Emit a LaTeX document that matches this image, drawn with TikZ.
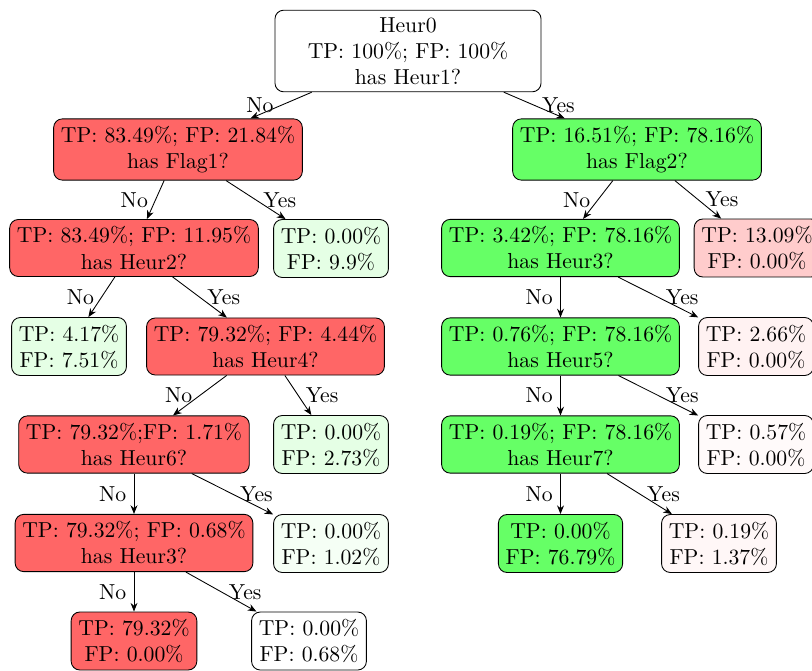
\documentclass[tikz,border=0pt]{standalone}
\usetikzlibrary{arrows.meta}
\tikzset{
  box/.style={draw, rounded corners=4pt, align=center, inner sep=3.33pt},
  posbox/.style={box, fill=red!60},
  negbox/.style={box, fill=green!60},
  edge/.style={-{Stealth[length=4pt,width=3.2pt]}},
  nolbl/.style={left},
  yeslbl/.style={right},
}
\begin{document}
\begin{tikzpicture}[x=0.4608pt, y=-0.4608pt]
  \useasboundingbox (0,0) rectangle (812,671);

  % root split
  \node[box, minimum width=122.6pt] (root) at (408,51) {Heur0\\TP: 100\%; FP: 100\%\\has Heur1?};

  % left branch
  \node[posbox] (a) at (178,149.5) {TP: 83.49\%; FP: 21.84\%\\has Flag1?};
  \node[posbox] (a1) at (134,248) {TP: 83.49\%; FP: 11.95\%\\has Heur2?};
  \node[box, fill=green!10] (a2) at (331,248.5) {TP: 0.00\%\\FP: 9.9\%};
  \node[box, fill=green!10] (a1a) at (69,346.5) {TP: 4.17\%\\FP: 7.51\%};
  \node[posbox] (a1b) at (265.5,346.5) {TP: 79.32\%; FP: 4.44\%\\has Heur4?};
  \node[posbox] (a1b1) at (134,444.5) {TP: 79.32\%;FP: 1.71\%\\has Heur6?};
  \node[box, fill=green!10] (a1b2) at (331,444.5) {TP: 0.00\%\\FP: 2.73\%};
  \node[posbox] (a1b1a) at (134,543) {TP: 79.32\%; FP: 0.68\%\\has Heur3?};
  \node[box, fill=green!4] (a1b1b) at (331,543.5) {TP: 0.00\%\\FP: 1.02\%};
  \node[posbox] (a1b1a1) at (134,641) {TP: 79.32\%\\FP: 0.00\%};
  \node[box, fill=white] (a1b1a2) at (309,641) {TP: 0.00\%\\FP: 0.68\%};

  % right branch
  \node[negbox] (b) at (637,149.5) {TP: 16.51\%; FP: 78.16\%\\has Flag2?};
  \node[negbox] (b1) at (560.5,248) {TP: 3.42\%; FP: 78.16\%\\has Heur3?};
  \node[box, fill=red!20] (b2) at (757,248) {TP: 13.09\%\\FP: 0.00\%};
  \node[negbox] (b1a) at (560.5,346.5) {TP: 0.76\%; FP: 78.16\%\\has Heur5?};
  \node[box, fill=red!5] (b1b) at (756,346.5) {TP: 2.66\%\\FP: 0.00\%};
  \node[negbox] (b1a1) at (560.5,444.5) {TP: 0.19\%; FP: 78.16\%\\has Heur7?};
  \node[box, fill=red!2] (b1a2) at (756,444.5) {TP: 0.57\%\\FP: 0.00\%};
  \node[negbox] (b1a1a) at (560.5,543.5) {TP: 0.00\%\\FP: 76.79\%};
  \node[box, fill=red!3] (b1a1b) at (719,543.5) {TP: 0.19\%\\FP: 1.37\%};

  % decisions
  \draw[edge] (root) -- node[nolbl] {No} (a);
  \draw[edge] (root) -- node[yeslbl] {Yes} (b);
  \draw[edge] (a) -- node[nolbl] {No} (a1);
  \draw[edge] (a) -- node[yeslbl] {Yes} (a2);
  \draw[edge] (a1) -- node[nolbl] {No} (a1a);
  \draw[edge] (a1) -- node[yeslbl] {Yes} (a1b);
  \draw[edge] (a1b) -- node[nolbl] {No} (a1b1);
  \draw[edge] (a1b) -- node[yeslbl] {Yes} (a1b2);
  \draw[edge] (a1b1) -- node[nolbl] {No} (a1b1a);
  \draw[edge] (a1b1) -- node[yeslbl] {Yes} (a1b1b);
  \draw[edge] (a1b1a) -- node[nolbl] {No} (a1b1a1);
  \draw[edge] (a1b1a) -- node[yeslbl] {Yes} (a1b1a2);
  \draw[edge] (b) -- node[nolbl] {No} (b1);
  \draw[edge] (b) -- node[yeslbl] {Yes} (b2);
  \draw[edge] (b1) -- node[nolbl] {No} (b1a);
  \draw[edge] (b1) -- node[yeslbl] {Yes} (b1b);
  \draw[edge] (b1a) -- node[nolbl] {No} (b1a1);
  \draw[edge] (b1a) -- node[yeslbl] {Yes} (b1a2);
  \draw[edge] (b1a1) -- node[nolbl] {No} (b1a1a);
  \draw[edge] (b1a1) -- node[yeslbl] {Yes} (b1a1b);
\end{tikzpicture}
\end{document}
